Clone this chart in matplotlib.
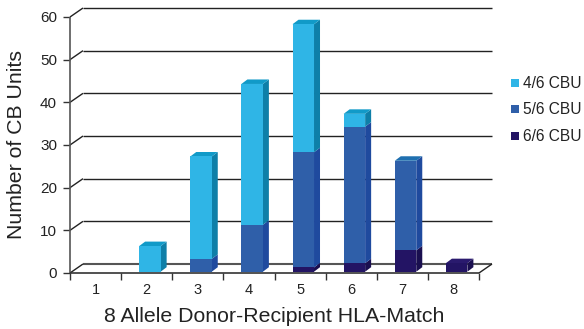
import numpy as np
import matplotlib
matplotlib.use('Agg')
import matplotlib.pyplot as plt
from matplotlib.patches import Polygon, Rectangle

plt.rcParams['font.family'] = ['Liberation Sans', 'DejaVu Sans']

categorias = ['1', '2', '3', '4', '5', '6', '7', '8']
series = ['4/6 CBU', '5/6 CBU', '6/6 CBU']
cbu_6 = [0, 0, 0, 0, 1, 2, 5, 2]
cbu_5 = [0, 0, 3, 11, 27, 32, 21, 0]
cbu_4 = [0, 6, 24, 33, 30, 3, 0, 0]
ticks_y = [0, 10, 20, 30, 40, 50, 60]

cor_frente = {'4/6 CBU': '#2fb5e6', '5/6 CBU': '#2f5fa9', '6/6 CBU': '#231464'}
cor_lado = {'4/6 CBU': '#0e7fa8', '5/6 CBU': '#1f4a9e', '6/6 CBU': '#1a0f50'}
cor_topo = {'4/6 CBU': '#119ac8', '5/6 CBU': '#1f70b0', '6/6 CBU': '#2a1a6e'}

W, H = 584, 329
fig = plt.figure(figsize=(W / 100, H / 100), dpi=100)
ax = fig.add_axes([70 / W, (H - 273) / H, 409 / W, 256 / H])
ax.set_xlim(0, 8)
ax.set_ylim(0, 60)
ax.axis('off')

# fatores de pixel para unidade de dados
px = 8 / 409
py = 60 / 256

# profundidade da parede do fundo e das barras
fundo_x, fundo_y = 13 * px, 9 * py
prof_x, prof_y = 6 * px, 4.5 * py
larg = 21.5 * px
desl_x, desl_y = 3.2 * px, 1.3 * py


def linha(xs, ys, cor='#222222', lw=1.0, z=1):
    ax.plot(xs, ys, color=cor, lw=lw, clip_on=False, zorder=z, solid_capstyle='butt')


# grade do fundo com as diagonais e as marcas do eixo y
for v in ticks_y:
    cor = '#555555' if v == 0 else '#222222'
    linha([fundo_x, 8 + fundo_x], [v + fundo_y, v + fundo_y], cor=cor, lw=1.5 if v == 0 else 1.0)
    linha([0, fundo_x], [v, v + fundo_y])
    linha([-7 * px, 0], [v, v], cor='#333333')
    ax.text(-13 * px, v, str(v), ha='right', va='center_baseline', fontsize=11, color='#222222')

linha([8, 8 + fundo_x], [0, fundo_y])
linha([0, 0], [0, 60], cor='#555555', lw=1.2, z=2)
linha([0, 8], [0, 0], cor='#333333', lw=1.2, z=2)

# marcas e rotulos do eixo x
for i in range(9):
    linha([i, i], [0, -7 * py], cor='#333333', lw=1.0)
for i, c in enumerate(categorias):
    ax.text(i + 0.5, -15 * py, c, ha='center', va='center_baseline', fontsize=10.5, color='#222222')

# barras empilhadas com face lateral e topo
valores = {'6/6 CBU': cbu_6, '5/6 CBU': cbu_5, '4/6 CBU': cbu_4}
for i in range(len(categorias)):
    x0 = i + 0.5 - larg / 2 + desl_x
    x1 = x0 + larg
    base = desl_y
    ultimo = None
    for nome in ['6/6 CBU', '5/6 CBU', '4/6 CBU']:
        v = valores[nome][i]
        if v == 0:
            continue
        ax.add_patch(Rectangle((x0, base), larg, v, fc=cor_frente[nome], ec='none', zorder=4, clip_on=False))
        ax.add_patch(Polygon([(x1, base), (x1 + prof_x, base + prof_y),
                              (x1 + prof_x, base + v + prof_y), (x1, base + v)],
                             fc=cor_lado[nome], ec='none', zorder=3, clip_on=False))
        base += v
        ultimo = nome
    if ultimo:
        ax.add_patch(Polygon([(x0, base), (x1, base), (x1 + prof_x, base + prof_y),
                              (x0 + prof_x, base + prof_y)],
                             fc=cor_topo[ultimo], ec='none', zorder=3, clip_on=False))

# titulos dos eixos
fig.text(274 / W, 1 - 316 / H, '8 Allele Donor-Recipient HLA-Match', ha='center', va='center',
         fontsize=15.3, color='#222222')
fig.text(17 / W, 1 - 144 / H, 'Number of CB Units', ha='center', va='center', rotation=90,
         fontsize=15.3, color='#222222')

# legenda
for k, nome in enumerate(series):
    yc = 83 + k * 26.5
    fig.add_artist(Rectangle((511 / W, 1 - (yc + 4) / H), 8 / W, 8 / H, fc=cor_frente[nome], ec='none',
                             transform=fig.transFigure))
    fig.text(523 / W, 1 - yc / H, nome, ha='left', va='center', fontsize=11.2, color='#222222')

fig.savefig('out.png', dpi=100)
